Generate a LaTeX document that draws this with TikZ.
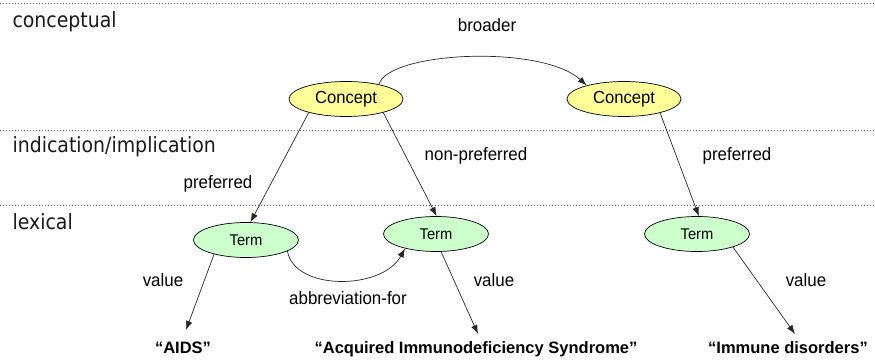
\documentclass[tikz,border=0pt]{standalone}
\usepackage{fontspec}
\setmainfont{Liberation Sans}
\newfontfamily\layerfont[FakeStretch=0.9]{DejaVu Sans}
\newfontfamily\lblfont[FakeStretch=0.94]{Liberation Sans}
\newfontfamily\nodefont[FakeStretch=0.95]{Liberation Sans}
\usetikzlibrary{shapes.geometric,arrows.meta}
\definecolor{conceptfill}{HTML}{FFFF99}
\definecolor{termfill}{HTML}{CCFFCC}
\begin{document}
\begin{tikzpicture}[x=1pt,y=-1pt,
  layer/.style={anchor=base west, font=\layerfont\fontsize{21}{24}\selectfont, text=black!90},
  separator/.style={draw=black!65, line width=0.8pt, dash pattern=on 0.9pt off 2.1pt},
  concept/.style={ellipse, draw=black, line width=0.7pt, fill=conceptfill,
    minimum width=114pt, minimum height=35pt, inner sep=0pt,
    font=\nodefont\fontsize{17.5}{20}\selectfont},
  term/.style={ellipse, draw=black, line width=0.7pt, fill=termfill,
    minimum width=105pt, minimum height=35pt, inner sep=0pt,
    font=\nodefont\fontsize{15.5}{18}\selectfont},
  rel/.style={anchor=base, font=\lblfont\fontsize{18}{20}\selectfont},
  literal/.style={anchor=base, font=\bfseries\fontsize{16.5}{19}\selectfont},
  link/.style={draw=black!85, line width=0.7pt, -{Latex[length=9pt,width=6.5pt]}}
]
\useasboundingbox (0,0) rectangle (875,363);

% layer separators
\draw[separator] (0,3) -- (875,3);
\draw[separator] (0,130) -- (875,130);
\draw[separator] (0,205) -- (875,205);

% layer names
\node[layer] (lconc) at (9,28) {conceptual};
\node[layer] (lind) at (9,153) {indication/implication};
\node[layer] (llex) at (9,230) {lexical};

% concepts and terms
\node[concept] (c1) at (346,99) {Concept};
\node[concept] (c2) at (624,99) {Concept};
\node[term] (t1) at (246,240) {Term};
\node[term] (t2) at (436,234) {Term};
\node[term] (t3) at (697,234) {Term};

% literal values
\node[literal] (v1) at (183,353) {“AIDS”};
\node[literal] (v2) at (476,353) {“Acquired Immunodeficiency Syndrome”};
\node[literal] (v3) at (788,353) {“Immune disorders”};
\coordinate (v1tip) at (186,330);
\coordinate (v2tip) at (478,334);
\coordinate (v3tip) at (795,334);

% relations
\draw[link] (c1.24) .. controls +(10,-33) and +(-45,-41) .. (c2.160);
\node[rel] (lbroader) at (487,32) {broader};

\draw[link] (c1.200) -- (t1.76);
\node[rel] (lpref1) at (218,189) {preferred};

\draw[link] (c1.340) -- (t2.88);
\node[rel] (lnonpref) at (476,161) {non-preferred};

\draw[link] (c2.339) -- (t3.84);
\node[rel] (lpref2) at (737,161) {preferred};

\draw[link] (t1.345) .. controls +(7,40) and +(-23,42) .. (t2.205);
\node[rel] (labbr) at (348,304) {abbreviation-for};

\draw[link] (t1.204) -- (v1tip);
\node[rel] (lval1) at (163,287) {value};
\draw[link] (t2.286) -- (v2tip);
\node[rel] (lval2) at (494,287) {value};
\draw[link] (t3.340) -- (v3tip);
\node[rel] (lval3) at (806,287) {value};
\end{tikzpicture}
\end{document}
